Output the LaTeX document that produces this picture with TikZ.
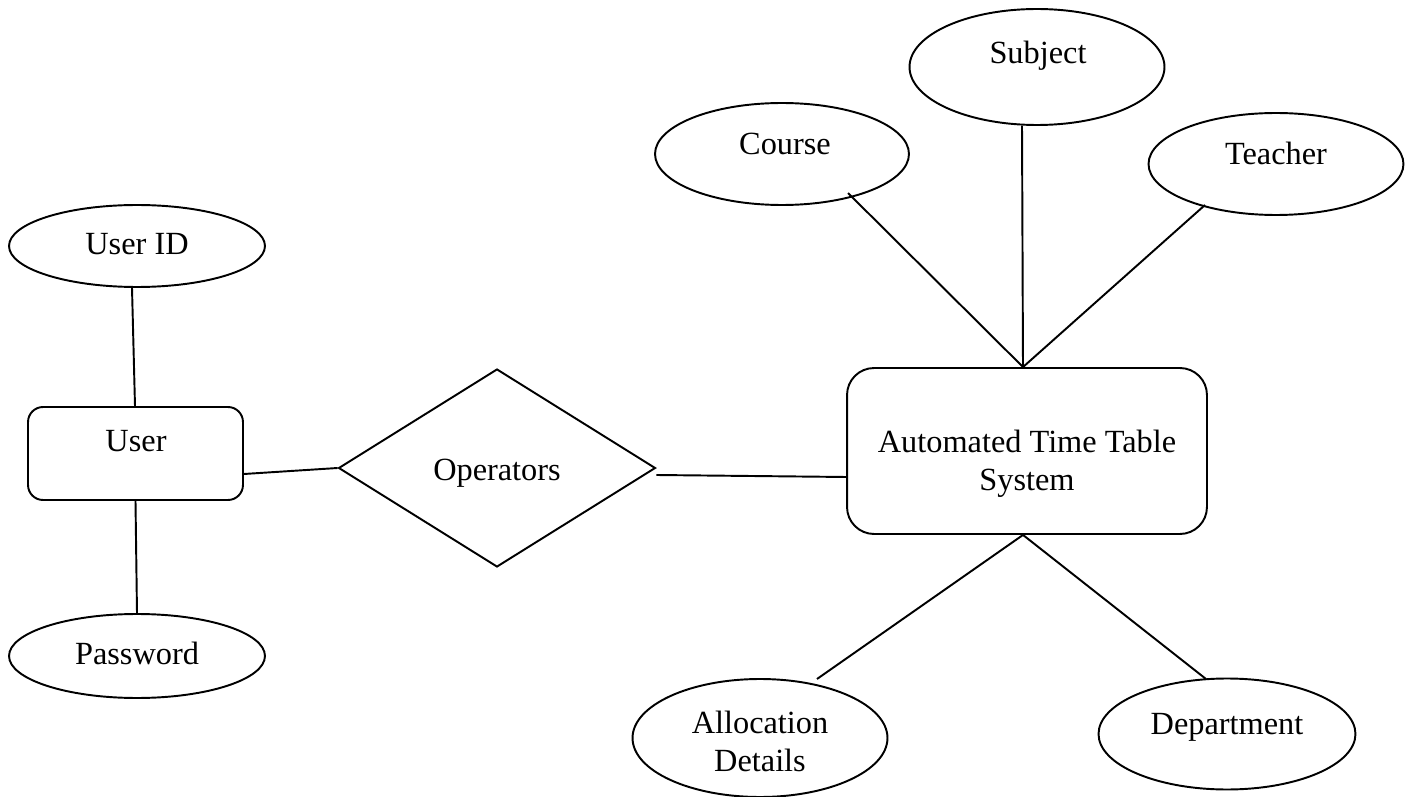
\documentclass[tikz,border=0pt]{standalone}
\usepackage{fontspec}
\setmainfont{Liberation Serif}
\usetikzlibrary{shapes.geometric,calc}
\begin{document}
\begin{tikzpicture}[x=0.02cm,y=-0.02cm,
  attr/.style={ellipse,draw,line width=1.1pt,minimum width=5.1cm,inner sep=0pt},
  ent/.style={rectangle,draw,line width=1.1pt,inner sep=0pt},
  rel/.style={diamond,draw,line width=1.1pt,inner sep=0pt},
  txt/.style={font=\fontsize{18.4}{21.6}\selectfont,align=center,inner sep=0pt,anchor=base},
  conn/.style={line width=1.1pt}]
\useasboundingbox (0,0) rectangle (1414,797);

% shapes
\node[attr,minimum width=5.12cm,minimum height=1.64cm] (uid) at (137,246) {};
\node[ent,rounded corners=0.3cm,minimum width=4.3cm,minimum height=1.86cm] (user) at (135.5,453.5) {};
\node[attr,minimum width=5.12cm,minimum height=1.68cm] (pwd) at (137,656) {};
\node[rel,minimum width=6.34cm,minimum height=3.96cm] (ops) at (497,468) {};
\node[ent,rounded corners=0.54cm,minimum width=7.2cm,minimum height=3.32cm] (atts) at (1027,451) {};
\node[attr,minimum width=5.08cm,minimum height=2.04cm] (course) at (782,154) {};
\node[attr,minimum width=5.1cm,minimum height=2.32cm] (subj) at (1037,67) {};
\node[attr,minimum width=5.1cm,minimum height=2.04cm] (teach) at (1276,164) {};
\node[attr,minimum width=5.1cm,minimum height=2.36cm] (alloc) at (760,738) {};
\node[attr,minimum width=5.14cm,minimum height=2.22cm] (dept) at (1227,734) {};

% texts (base anchor = baseline of the last line)
\node[txt] (uidT) at (137,255) {User ID};
\node[txt] (userT) at (136,451) {User};
\node[txt] (pwdT) at (137,664) {Password};
\node[txt] (opsT) at (497,480) {Operators};
\node[txt] (attsT) at (1027,490) {Automated Time Table\\System};
\node[txt] (courseT) at (785,155) {Course};
\node[txt] (subjT) at (1038,64) {Subject};
\node[txt] (teachT) at (1276,165) {Teacher};
\node[txt] (allocT) at (760,771) {Allocation\\Details};
\node[txt] (deptT) at (1227,734) {Department};

% connectors
\coordinate (atop) at ([xshift=-0.08cm]atts.north);
\coordinate (abot) at ([xshift=-0.08cm]atts.south);
\draw[conn] ([xshift=-0.1cm]uid.south) -- ([xshift=-0.01cm]user.north);
\draw[conn] (user.south) -- (pwd.north);
\draw[conn] ([yshift=-0.41cm]user.east) -- (ops.west);
\draw[conn] ([yshift=-0.14cm]ops.east) -- ([yshift=-0.52cm]atts.west);
\draw[conn] ($(course.center)+(66,39)$) -- (atop);
\draw[conn] ([xshift=-0.3cm]subj.south) -- (atop);
\draw[conn] ($(teach.center)+(-71,41)$) -- (atop);
\draw[conn] (abot) -- ($(alloc.center)+(57,-59)$);
\draw[conn] (abot) -- ($(dept.center)+(-21,-55)$);
\end{tikzpicture}
\end{document}
